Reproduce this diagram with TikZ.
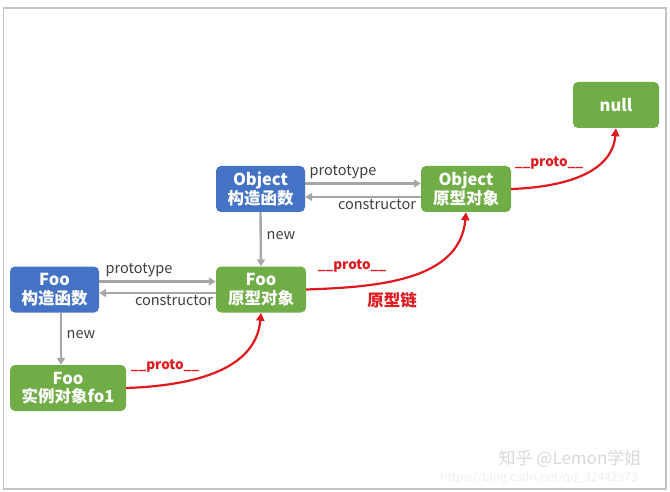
\documentclass[tikz,border=0pt]{standalone}
\usepackage{fontspec}
\setmainfont{Noto Sans CJK SC}
\usetikzlibrary{arrows.meta}
\definecolor{nodeblue}{HTML}{4472C4}
\definecolor{nodegreen}{HTML}{70AD47}
\definecolor{linkgray}{HTML}{A6A6A6}
\definecolor{labelgray}{HTML}{404040}
\definecolor{chainred}{HTML}{E0191E}
\definecolor{framegray}{HTML}{C4C4C4}
\tikzset{
  objbox/.style={rounded corners=5pt, text=white, align=center,
    font=\bfseries\fontsize{16.5}{18.5}\selectfont, minimum height=46pt, inner sep=0pt},
  consbox/.style={objbox, fill=nodeblue},
  protobox/.style={objbox, fill=nodegreen},
  grayarrow/.style={draw=linkgray, line width=2.4pt, -{Triangle[length=7pt,width=8pt]}},
  redarrow/.style={draw=chainred, line width=2.2pt, -{Triangle[length=8pt,width=8pt]}},
  linklabel/.style={text=labelgray, font=\fontsize{14.5}{16}\selectfont, inner sep=0pt},
  protolabel/.style={text=chainred, font=\bfseries\fontsize{13.5}{15}\selectfont, inner sep=0pt},
}
\begin{document}
\begin{tikzpicture}[x=1pt,y=-1pt]
\useasboundingbox (0,0) rectangle (670,492);
\fill[white] (0,0) rectangle (670,492);
\draw[framegray, line width=1.2pt] (3.5,8) rectangle (666,489);

\node[consbox, minimum width=89pt] (ocons) at (260.5,189) {Object\\构造函数};
\node[protobox, minimum width=90pt] (oproto) at (466,189) {Object\\原型对象};
\node[protobox, minimum width=90pt] (fproto) at (261,289.5) {Foo\\原型对象};
\node[consbox, minimum width=89pt] (fcons) at (54.5,289.5) {Foo\\构造函数};
\node[protobox, minimum width=116pt] (finst) at (68,388) {Foo\\实例对象fo1};
\node[protobox, minimum width=86pt] (nullnode) at (616,105) {null};

% Object constructor <-> prototype
\draw[grayarrow] ([yshift=5.5pt]ocons.east) -- ([yshift=5.5pt]oproto.west);
\draw[grayarrow] ([yshift=-8pt]oproto.west) -- ([yshift=-8pt]ocons.east);
\node[linklabel] (lop) at (343,172) {prototype};
\node[linklabel] (loc) at (377,205) {constructor};

% Foo constructor <-> prototype
\draw[grayarrow] ([yshift=8pt]fcons.east) -- ([yshift=8pt]fproto.west);
\draw[grayarrow] ([yshift=-3.5pt]fproto.west) -- ([yshift=-3.5pt]fcons.east);
\node[linklabel] (lfp) at (139,270) {prototype};
\node[linklabel] (lfc) at (174,301) {constructor};

% new
\draw[grayarrow] (ocons.south) -- (fproto.north);
\node[linklabel] (lon) at (281,236) {new};
\draw[grayarrow] (fcons.south -| 61,0) -- (finst.north -| 61,0);
\node[linklabel] (lfn) at (81,335) {new};

% prototype chain
\draw[redarrow] (finst.east) to[out=2,in=-95] (fproto.south);
\node[protolabel] (p1) at (165,366) {\_\_proto\_\_};
\draw[redarrow] (fproto.east) to[out=2,in=-95] (oproto.south);
\node[protolabel] (p2) at (352,266) {\_\_proto\_\_};
\draw[redarrow] (oproto.east) to[out=2,in=-95] (nullnode.south);
\node[protolabel] (p3) at (549,163) {\_\_proto\_\_};
\node[text=chainred, font=\bfseries\fontsize{16.5}{18}\selectfont, inner sep=0pt] (chain) at (392,300) {原型链};

% watermark
\node[text=gray!30, font=\fontsize{17}{19}\selectfont, inner sep=0pt] (wm1) at (570,459) {知乎 @Lemon学姐};
\node[text=gray!12, font=\fontsize{12}{14}\selectfont, inner sep=0pt] (wm2) at (539,478) {https://blog.csdn.net/qq\_32442973};
\end{tikzpicture}
\end{document}
